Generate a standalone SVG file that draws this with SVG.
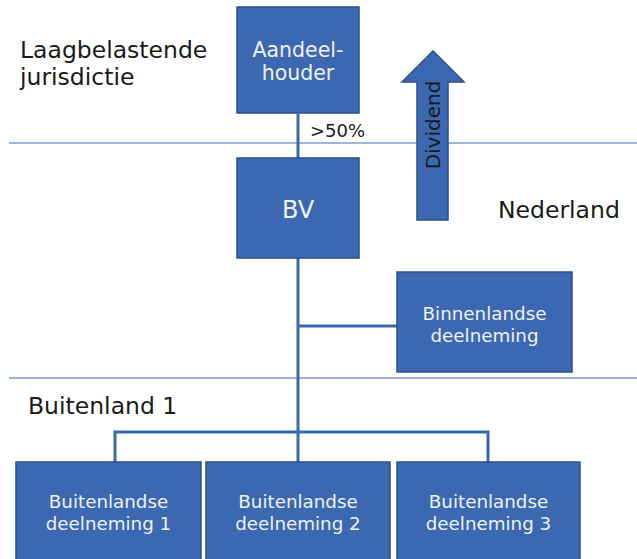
<svg xmlns="http://www.w3.org/2000/svg" width="637" height="559" viewBox="0 0 637 559">
  <style>
    .box { fill: #3b68b0; stroke: #2c4f8a; stroke-width: 1.5; }
    .btxt { font-family: "DejaVu Sans", Verdana, sans-serif; font-size: 18.3px; fill: #eef2f9; text-anchor: middle; }
    .lbl { font-family: "DejaVu Sans", Verdana, sans-serif; font-size: 23.5px; fill: #1a1a1a; }
    .conn { stroke: #3a68b0; stroke-width: 3; fill: none; }
    .sep { stroke: #7e9ccd; stroke-width: 1.5; }
  </style>
  <rect width="637" height="559" fill="#ffffff"/>

  <g id="separators">
    <line class="sep" x1="9" y1="143" x2="637" y2="143"/>
    <line class="sep" x1="9" y1="378" x2="637" y2="378"/>
  </g>

  <g id="region-labels">
    <text class="lbl" x="20" y="58">Laagbelastende</text>
    <text class="lbl" x="20" y="85">jurisdictie</text>
    <text class="lbl" x="498" y="218">Nederland</text>
    <text class="lbl" x="28" y="414">Buitenland 1</text>
  </g>

  <g id="connectors">
    <line class="conn" x1="298" y1="114" x2="298" y2="158"/>
    <line class="conn" x1="298" y1="258" x2="298" y2="432"/>
    <line class="conn" x1="298" y1="326" x2="397" y2="326"/>
    <polyline class="conn" points="115,462 115,432 488,432 488,462"/>
    <line class="conn" x1="298" y1="432" x2="298" y2="462"/>
    <text x="310" y="137" font-family="DejaVu Sans, Verdana, sans-serif" font-size="18" fill="#1a1a1a">&gt;50%</text>
  </g>

  <g id="aandeelhouder">
    <rect class="box" x="237" y="7" width="122" height="106"/>
    <text class="btxt" x="298" y="57" style="font-size:20.5px">Aandeel-</text>
    <text class="btxt" x="298" y="80" style="font-size:20.5px">houder</text>
  </g>

  <g id="bv">
    <rect class="box" x="237" y="158" width="122" height="100"/>
    <text class="btxt" x="298" y="218" style="font-size:24px">BV</text>
  </g>

  <g id="dividend">
    <polygon class="box" points="433,51 464,82 448,82 448,220 417,220 417,82 402,82"/>
    <text x="0" y="0" transform="translate(440,125) rotate(-90)" font-family="DejaVu Sans, Verdana, sans-serif" font-size="20" fill="#1a1a1a" text-anchor="middle">Dividend</text>
  </g>

  <g id="binnenlandse">
    <rect class="box" x="397" y="272" width="175" height="100"/>
    <text class="btxt" x="484.5" y="320">Binnenlandse</text>
    <text class="btxt" x="484.5" y="342">deelneming</text>
  </g>

  <g id="buitenlandse1">
    <rect class="box" x="16" y="462" width="185" height="110"/>
    <text class="btxt" x="108.5" y="508">Buitenlandse</text>
    <text class="btxt" x="108.5" y="530">deelneming 1</text>
  </g>

  <g id="buitenlandse2">
    <rect class="box" x="206" y="462" width="184" height="110"/>
    <text class="btxt" x="298" y="508">Buitenlandse</text>
    <text class="btxt" x="298" y="530">deelneming 2</text>
  </g>

  <g id="buitenlandse3">
    <rect class="box" x="397" y="462" width="183" height="110"/>
    <text class="btxt" x="488.5" y="508">Buitenlandse</text>
    <text class="btxt" x="488.5" y="530">deelneming 3</text>
  </g>
</svg>
